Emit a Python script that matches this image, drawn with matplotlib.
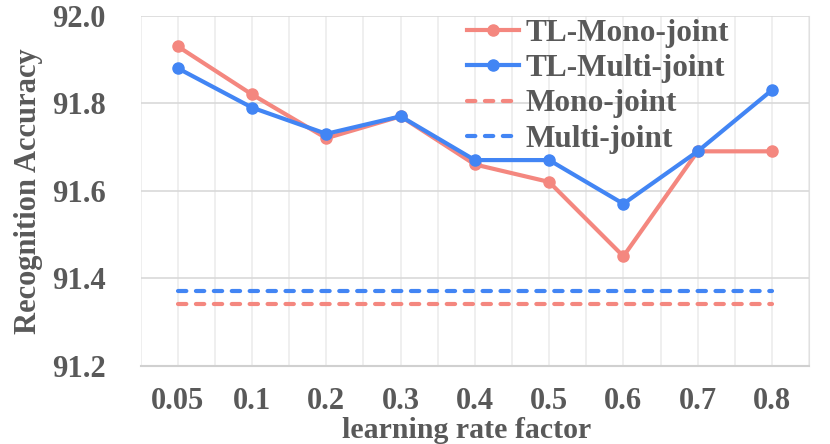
import numpy as np
import matplotlib.pyplot as plt
from matplotlib.ticker import MultipleLocator

factors = ["0.05", "0.1", "0.2", "0.3", "0.4", "0.5", "0.6", "0.7", "0.8"]
tl_mono = [91.93, 91.82, 91.72, 91.77, 91.66, 91.62, 91.45, 91.69, 91.69]
tl_multi = [91.88, 91.79, 91.73, 91.77, 91.67, 91.67, 91.57, 91.69, 91.83]
mono_joint = [91.34] * len(factors)
multi_joint = [91.37] * len(factors)

pink = "#F4877F"
blue = "#4285F4"
txt = "#595959"

plt.rcParams["font.family"] = ["Liberation Serif", "DejaVu Serif"]
plt.rcParams["font.weight"] = "bold"

fig = plt.figure(figsize=(8.3, 4.44), dpi=100)
ax = fig.add_axes([0.1694, 0.1764, 0.8054, 0.7882])

x = np.arange(len(factors))
ax.plot(x, tl_mono, color=pink, lw=3, marker="o", ms=8, label="TL-Mono-joint")
ax.plot(x, tl_multi, color=blue, lw=3, marker="o", ms=8, label="TL-Multi-joint")
ax.plot(x, mono_joint, color=pink, lw=3, ls=(0, (2, 2.3)),
        dash_capstyle="round", label="Mono-joint")
ax.plot(x, multi_joint, color=blue, lw=3, ls=(0, (2, 2.3)),
        dash_capstyle="round", label="Multi-joint")

ax.set_xlim(-0.5, len(factors) - 0.5)
ax.set_ylim(91.2, 92.0)
ax.yaxis.set_major_locator(MultipleLocator(0.2))
ax.set_xticks(x)
ax.set_xticklabels(factors)
ax.set_xticks(np.arange(-0.5, len(factors), 1.0), minor=True)

ax.grid(True, which="major", axis="y", color="#d9d9d9", lw=1.2)
ax.grid(True, which="both", axis="x", color="#ececec", lw=1.2)
ax.set_axisbelow(True)
for s in ["top", "left"]:
    ax.spines[s].set_visible(False)
ax.spines["right"].set_color("#e0e0e0")
ax.spines["bottom"].set_color("#d0d0d0")
ax.spines["bottom"].set_linewidth(1.5)
ax.tick_params(which="both", length=0)
ax.tick_params(axis="x", pad=15, labelsize=22, labelcolor=txt)
ax.tick_params(axis="y", pad=25, labelsize=22, labelcolor=txt)
ax.yaxis.set_major_formatter(plt.FuncFormatter(lambda v, p: f"{v:.1f}"))

ax.set_ylabel("Recognition Accuracy", fontsize=22, color=txt, fontweight="bold")
ax.yaxis.set_label_coords(-0.146, 0.5)
ax.set_xlabel("learning rate factor", fontsize=21.5, color=txt, fontweight="bold")
ax.xaxis.set_label_coords(0.487, -0.146)

leg = ax.legend(loc="upper left", bbox_to_anchor=(467 / 830, 1 - 19 / 444),
                bbox_transform=fig.transFigure, frameon=False,
                fontsize=22.5, handlelength=1.65, labelspacing=0.2,
                handletextpad=0.22, borderpad=0, borderaxespad=0)
for t in leg.get_texts():
    t.set_color(txt)

fig.savefig("out.png", dpi=100)
